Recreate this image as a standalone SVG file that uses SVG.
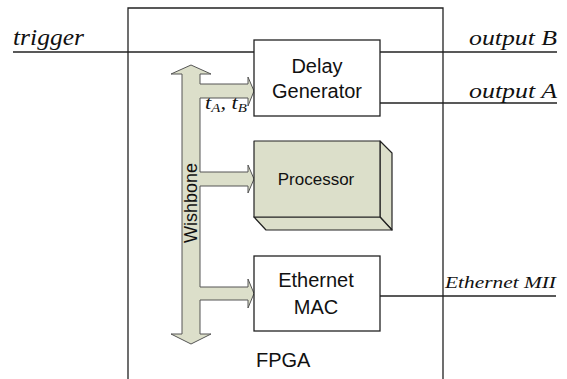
<svg xmlns="http://www.w3.org/2000/svg" width="567" height="379" viewBox="0 0 567 379">
<style>
.box{fill:#fff;stroke:#222;stroke-width:1.3}
.ln{stroke:#222;stroke-width:1.3;fill:none}
.sans{font-family:"Liberation Sans",Arial,sans-serif;fill:#111}
.it{font-family:"Liberation Serif","Times New Roman",serif;font-style:italic;fill:#111}
.bus{fill:#dcdfca;stroke:#555;stroke-width:1}
.proc{fill:#dcdfca;stroke:#222;stroke-width:1.2;stroke-linejoin:round}
</style>
<rect width="567" height="379" fill="#fff"/>
<g id="fpga">
<path class="ln" d="M128,379 V8 H443 V379"/>
<text class="sans" x="256" y="367" font-size="20">FPGA</text>
</g>
<g id="connectors">
<line class="ln" x1="13" y1="52" x2="254" y2="52"/>
<line class="ln" x1="380" y1="52" x2="557" y2="52"/>
<line class="ln" x1="380" y1="103" x2="557" y2="103"/>
<line class="ln" x1="380" y1="296" x2="556" y2="296"/>
<text class="it" x="13" y="45" font-size="23" textLength="71" lengthAdjust="spacingAndGlyphs">trigger</text>
<text class="it" x="469" y="45" font-size="22" textLength="88" lengthAdjust="spacingAndGlyphs">output B</text>
<text class="it" x="469" y="98" font-size="22" textLength="88" lengthAdjust="spacingAndGlyphs">output A</text>
<text class="it" x="445" y="288" font-size="17" textLength="111" lengthAdjust="spacingAndGlyphs">Ethernet MII</text>
</g>
<g id="wishbone">
<polygon class="bus" points="191,65 211,74 200,74 200,84 248,84 248,77 254,91 248,106 248,98 200,98 200,172 248,172 248,165 254,179 248,193 248,186 200,186 200,287 248,287 248,279 254,293.5 248,308 248,300 200,300 200,334 211,334 191,344 171,334 182,334 182,74 171,74"/>
<text class="sans" font-size="18" text-anchor="middle" transform="translate(197,203) rotate(-90)">Wishbone</text>
<text class="it" x="205" y="109" font-size="18" textLength="42" lengthAdjust="spacingAndGlyphs">t<tspan font-size="12" dy="3">A</tspan><tspan dy="-3">, t</tspan><tspan font-size="12" dy="3">B</tspan></text>
</g>
<g id="delay">
<rect class="box" x="254" y="40" width="126" height="76"/>
<text class="sans" font-size="20" text-anchor="middle" x="317" y="73">Delay</text>
<text class="sans" font-size="20" text-anchor="middle" x="317" y="98">Generator</text>
</g>
<g id="processor">
<polygon class="proc" points="380,141 392,153 392,230 380,217"/>
<polygon class="proc" points="254,217 380,217 392,230 266,230"/>
<rect class="proc" x="254" y="141" width="126" height="76"/>
<text class="sans" font-size="17" text-anchor="middle" x="316" y="185">Processor</text>
</g>
<g id="ethernet">
<rect class="box" x="254" y="256" width="126" height="75"/>
<text class="sans" font-size="20" text-anchor="middle" x="316" y="287">Ethernet</text>
<text class="sans" font-size="20" text-anchor="middle" x="316" y="314">MAC</text>
</g>
</svg>
